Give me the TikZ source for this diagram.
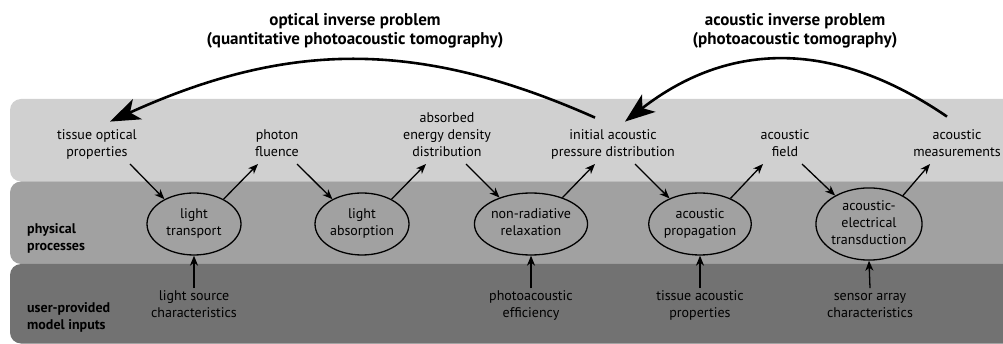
\documentclass[tikz,border=0pt]{standalone}
\usepackage{fontspec}
\setmainfont{PT Sans}
\usetikzlibrary{arrows.meta,shapes.geometric}
\definecolor{bandA}{RGB}{208,208,208}
\definecolor{bandB}{RGB}{161,161,161}
\definecolor{bandC}{RGB}{114,114,114}
\begin{document}
\begin{tikzpicture}[x=1pt,y=-1pt,
  txt/.style={font=\fontsize{14}{17}\selectfont, align=center, inner sep=0pt},
  lbl/.style={font=\fontsize{14}{17}\selectfont\bfseries, align=left, inner sep=0pt, anchor=north west},
  ttl/.style={font=\fontsize{17}{19}\selectfont\bfseries, align=center, inner sep=0pt, anchor=north},
  proc/.style={ellipse, draw, line width=1.3pt, minimum width=94pt, minimum height=62pt, inner sep=0pt,
    font=\fontsize{14}{17}\selectfont, align=center},
  arr/.style={line width=1.3pt, -{Stealth[length=10pt,width=8pt,inset=3pt]}},
  big/.style={line width=2.6pt, -{Stealth[length=30pt,width=22pt,inset=8pt]}}]
\useasboundingbox (0,0) rectangle (1003,344);
\clip (0,0) rectangle (1003,344);
% bands
\fill[bandA, rounded corners=11pt] (10,99) rectangle (1040,181.5);
\fill[bandB, rounded corners=11pt] (10,181.5) rectangle (1040,264);
\fill[bandC, rounded corners=11pt] (10,264) rectangle (1040,343.5);
% titles
\node[ttl] (ti1) at (355,11.7) {\strut optical inverse problem\\\strut(quantitative photoacoustic tomography)};
\node[ttl] (ti2) at (795,11.7) {\strut acoustic inverse problem\\\strut(photoacoustic tomography)};
% side labels
\node[lbl] (l1) at (27,221.1) {\strut physical\\\strut processes};
\node[lbl] (l2) at (27,300.1) {\strut user-provided\\\strut model inputs};
% quantities
\node[txt, anchor=south] (t1) at (97,162) {\strut tissue optical\\\strut properties};
\node[txt, anchor=south] (t2) at (277,162) {\strut photon\\\strut fluence};
\node[txt, anchor=south] (t3) at (447,162) {\strut absorbed\\\strut energy density\\\strut distribution};
\node[txt, anchor=south] (t4) at (613,162) {\strut initial acoustic\\\strut pressure distribution};
\node[txt, anchor=south] (t5) at (785,162) {\strut acoustic\\\strut field};
\node[txt, anchor=south] (t6) at (957,162) {\strut acoustic\\\strut measurements};
% processes
\node[proc] (e1) at (194,224) {\strut light\\\strut transport};
\node[proc] (e2) at (362,224) {\strut light\\\strut absorption};
\node[proc] (e3) at (531,224) {\strut non-radiative\\\strut relaxation};
\node[proc] (e4) at (700,224) {\strut acoustic\\\strut propagation};
\node[proc] (e5) at (869,224) {\strut acoustic-\\\strut electrical\\\strut transduction};
% inputs
\node[txt, anchor=north] (b1) at (194,288.1) {\strut light source\\\strut characteristics};
\node[txt, anchor=north] (b3) at (531,288.1) {\strut photoacoustic\\\strut efficiency};
\node[txt, anchor=north] (b4) at (700,288.1) {\strut tissue acoustic\\\strut properties};
\node[txt, anchor=north] (b5) at (870,288.1) {\strut sensor array\\\strut characteristics};
% forward chain
\draw[arr] ([xshift=33pt,yshift=-2pt]t1.south) -- (e1.140);
\draw[arr] (e1.40) -- ([xshift=-19pt,yshift=-2pt]t2.south);
\draw[arr] ([xshift=20pt,yshift=-2pt]t2.south) -- (e2.140);
\draw[arr] (e2.40) -- ([xshift=-21pt,yshift=-2pt]t3.south);
\draw[arr] ([xshift=19pt,yshift=-2pt]t3.south) -- (e3.140);
\draw[arr] (e3.40) -- ([xshift=-18pt,yshift=-2pt]t4.south);
\draw[arr] ([xshift=22pt,yshift=-2pt]t4.south) -- (e4.140);
\draw[arr] (e4.40) -- ([xshift=-22pt,yshift=-2pt]t5.south);
\draw[arr] ([xshift=17pt,yshift=-2pt]t5.south) -- (e5.140);
\draw[arr] (e5.40) -- ([xshift=-27pt,yshift=-2pt]t6.south);
% inputs
\draw[arr] (b1.north) -- (e1.south);
\draw[arr] (b3.north) -- (e3.south);
\draw[arr] (b4.north) -- (e4.south);
\draw[arr] (b5.north) -- (e5.south);
% inverse problems
\draw[big] ([xshift=-18pt,yshift=10pt]t4.north) .. controls (420,40) and (290,40) .. ([xshift=13pt,yshift=6pt]t1.north);
\draw[big] ([xshift=-10pt,yshift=11pt]t6.north) .. controls (835,40) and (730,40) .. ([xshift=12pt,yshift=6pt]t4.north);
\end{tikzpicture}
\end{document}
